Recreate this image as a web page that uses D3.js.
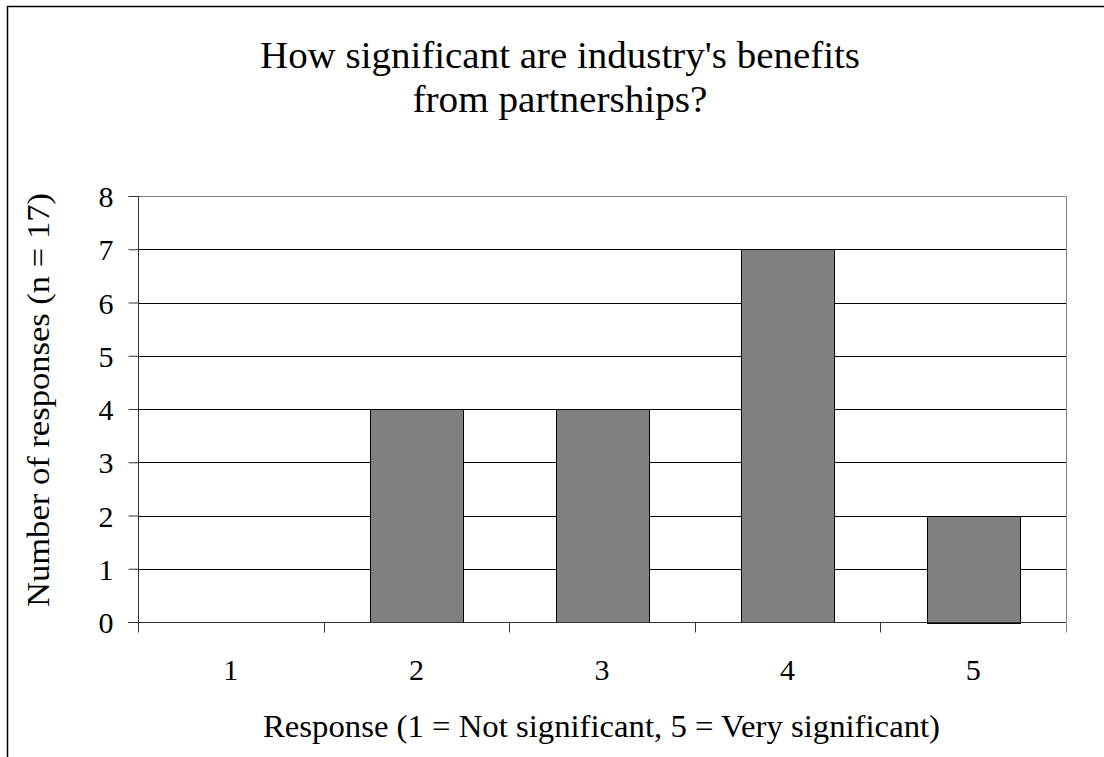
<!DOCTYPE html>
<html>
<head>
<meta charset="utf-8">
<script src="https://cdn.jsdelivr.net/npm/d3@7"></script>
<style>
  body { margin: 0; background: #fff; }
  svg { display: block; }
  svg text { font-family: "Liberation Serif", "Times New Roman", serif; }
</style>
</head>
<body>
<div id="chart"></div>
<script>
// Data
const categories = ["1", "2", "3", "4", "5"];
const counts = [0, 4, 4, 7, 2];
const yTicks = [0, 1, 2, 3, 4, 5, 6, 7, 8];
const titleLines = ["How significant are industry's benefits", "from partnerships?"];
const xTitle = "Response (1 = Not significant, 5 = Very significant)";
const yTitle = "Number of responses (n = 17)";

const viewW = 1104;
const viewH = 757;
const margin = { top: 196, right: 38, bottom: 135, left: 138 };
const width = viewW - margin.left - margin.right;
const height = viewH - margin.top - margin.bottom;
const serif = "'Liberation Serif', 'Times New Roman', serif";

const svg = d3.select("#chart")
    .append("svg")
    .attr("width", viewW)
    .attr("height", viewH);

// Outer frame (runs off the right and bottom edges)
svg.append("path")
    .attr("d", `M7.5,${viewH}V6.5H${viewW}`)
    .attr("fill", "none")
    .attr("stroke", "#000")
    .attr("stroke-width", 1.5);

// Title
const titleWidths = [600, 295];
svg.append("g")
    .selectAll("text")
    .data(titleLines)
    .join("text")
    .attr("x", 560)
    .attr("y", (d, i) => 68 + i * 44)
    .attr("text-anchor", "middle")
    .attr("font-family", serif)
    .attr("textLength", (d, i) => titleWidths[i])
    .attr("lengthAdjust", "spacingAndGlyphs")
    .style("font-size", "38px")
    .text(d => d);

const g = svg.append("g")
    .attr("transform", `translate(${margin.left},${margin.top})`);

// Scales
const xScale = d3.scaleBand().domain(categories).range([0, width]).paddingInner(0.5).paddingOuter(0.25);
const xBand = d3.scaleBand().domain(categories).range([0, width]);
const yScale = d3.scaleLinear().domain([0, 8]).range([height, 0]);

// Gridlines
g.append("g")
    .selectAll("line")
    .data(yTicks.filter(d => d > 0 && d < 8))
    .join("line")
    .attr("x1", 0)
    .attr("x2", width)
    .attr("y1", d => Math.round(yScale(d)) + 0.5)
    .attr("y2", d => Math.round(yScale(d)) + 0.5)
    .attr("stroke", "#000");

// Plot border, top and right in gray
g.append("path")
    .attr("d", `M0,${yScale(8) + 0.5}H${width + 0.5}V${height}`)
    .attr("fill", "none")
    .attr("stroke", "#808080");

// Bars
g.selectAll("rect.bar")
    .data(counts)
    .join("rect")
    .attr("class", "bar")
    .attr("x", (d, i) => Math.round(xScale(categories[i])) + 0.5)
    .attr("y", d => Math.round(yScale(d)) + 0.5)
    .attr("width", Math.round(xScale.bandwidth()))
    .attr("height", d => Math.round(height - yScale(d)))
    .attr("fill", "#808080")
    .attr("stroke", "#000")
    .attr("stroke-width", 1)
    .style("display", d => d > 0 ? null : "none");

// Y axis
const yAxis = g.append("g")
    .attr("transform", "translate(0.5,0)")
    .call(d3.axisLeft(yScale).tickValues(yTicks).tickSize(10).tickPadding(15).tickFormat(d3.format("d")));
yAxis.attr("font-family", serif);
yAxis.select(".domain").attr("stroke", "#333").attr("d", `M0,${yScale(8)}V${height}`);
yAxis.selectAll(".tick line").attr("stroke", "#333");
yAxis.selectAll("text")
    .attr("fill", "#000")
    .attr("font-family", serif)
    .style("font-size", "30px")
    .attr("dy", "0.35em");

// X axis: ticks at the category boundaries
const xAxis = g.append("g")
    .attr("transform", `translate(0,${height + 0.5})`);
xAxis.append("line")
    .attr("x1", -10)
    .attr("x2", width)
    .attr("stroke", "#333");
xAxis.selectAll("line.tick")
    .data(categories.concat(["end"]))
    .join("line")
    .attr("class", "tick")
    .attr("x1", (d, i) => Math.round(i < categories.length ? xBand(d) : width) + 0.5)
    .attr("x2", (d, i) => Math.round(i < categories.length ? xBand(d) : width) + 0.5)
    .attr("y1", 0)
    .attr("y2", 10)
    .attr("stroke", (d, i) => i === categories.length ? "#808080" : "#333");
xAxis.selectAll("text")
    .data(categories)
    .join("text")
    .attr("x", d => xBand(d) + xBand.bandwidth() / 2)
    .attr("y", 57)
    .attr("text-anchor", "middle")
    .attr("font-family", serif)
    .style("font-size", "30px")
    .text(d => d);

// X axis title
svg.append("text")
    .attr("x", 601.5)
    .attr("y", 737)
    .attr("text-anchor", "middle")
    .attr("font-family", serif)
    .attr("textLength", 677)
    .attr("lengthAdjust", "spacingAndGlyphs")
    .style("font-size", "31px")
    .text(xTitle);

// Y axis title
svg.append("text")
    .attr("transform", "rotate(-90)")
    .attr("x", -400)
    .attr("y", 49)
    .attr("text-anchor", "middle")
    .attr("font-family", serif)
    .attr("textLength", 414)
    .attr("lengthAdjust", "spacingAndGlyphs")
    .style("font-size", "31px")
    .text(yTitle);
</script>
</body>
</html>
